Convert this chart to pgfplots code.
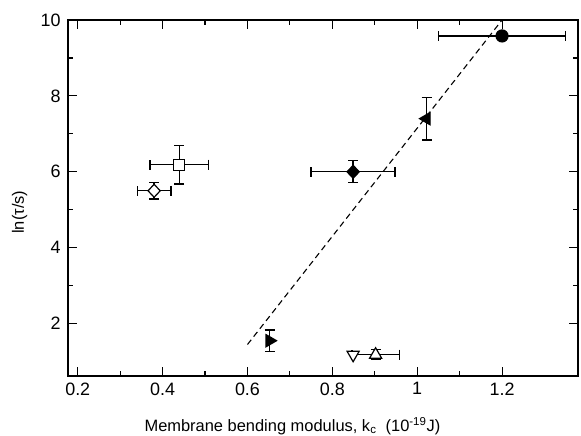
\documentclass[border=0pt]{standalone}
\usepackage{fontspec}
\setmainfont{Liberation Sans}
\usepackage{pgfplots}
\pgfplotsset{compat=1.18}

\begin{document}
\begin{tikzpicture}
\begin{axis}[
    name=ax,
    scale only axis,
    width=510bp,
    height=356bp,
    xmin=0.177, xmax=1.379,
    ymin=0.62, ymax=10,
    xtick={0.2,0.4,0.6,0.8,1,1.2},
    xticklabels={0.2,0.4,0.6,0.8,1,1.2},
    ytick={2,4,6,8,10},
    minor tick num=1,
    major tick length=9bp,
    minor tick length=5bp,
    axis line style={line width=1.2bp},
    every tick/.style={black, line width=1.1bp},
    tick label style={font=\fontsize{18}{20}\selectfont},
    xticklabel style={yshift=-3bp},
    yticklabel style={xshift=-4bp},
    /pgf/number format/assume math mode=true,
    label style={font=\fontsize{16.5}{18}\selectfont},
    xlabel={Membrane bending modulus, k\textsubscript{c}\ \ (10\textsuperscript{-19}J)},
    ylabel={ln(τ/s)},
    xlabel style={at={(axis description cs:0.44,-0.14)}, anchor=center},
    ylabel style={at={(axis description cs:-0.095,0.46)}, anchor=center},
    every axis plot/.append style={line width=1.2bp},
    error bars/error bar style={line width=1.3bp, black},
    error bars/error mark options={rotate=90, line width=1.3bp, mark size=5bp, black},
]
% fit line
\addplot[black, line width=1.1bp, dash pattern=on 6bp off 4bp] coordinates {(0.6,1.45) (1.2,10)};

% filled circle
\addplot[only marks, mark=*, mark size=6bp, black,
    error bars/.cd, x dir=both, x explicit]
    coordinates {(1.2,9.58) +- (0.149,0)};
% filled left triangle
\addplot[only marks, mark=triangle*, mark size=7bp, black, mark options={rotate=90},
    error bars/.cd, y dir=both, y explicit]
    coordinates {(1.022,7.40) +- (0,0.56)};
% filled diamond
\addplot[only marks, mark=diamond*, mark size=6.5bp, black, mark options={xscale=1.25},
    error bars/.cd, x dir=both, x explicit, y dir=both, y explicit]
    coordinates {(0.849,6.0) +- (0.099,0.29)};
% open square
\addplot[only marks, mark=square*, mark size=5.5bp, black, fill=white,
    error bars/.cd, x dir=both, x explicit, y dir=both, y explicit]
    coordinates {(0.439,6.19) +- (0.069,0.51)};
% open diamond
\addplot[only marks, mark=diamond*, mark size=6.5bp, black, fill=white, mark options={xscale=1.25},
    error bars/.cd, x dir=both, x explicit, y dir=both, y explicit]
    coordinates {(0.380,5.50) +- (0.040,0.22)};
% filled right triangle
\addplot[only marks, mark=triangle*, mark size=7bp, black, mark options={rotate=-90},
    error bars/.cd, y dir=both, y explicit]
    coordinates {(0.652,1.55) +- (0,0.28)};
% open up triangle
\addplot[only marks, mark=triangle*, mark size=7bp, black, fill=white,
    error bars/.cd, x dir=both, x explicit, y dir=both, y explicit]
    coordinates {(0.902,1.18) +- (0.056,0.13)};
% open down triangle
\addplot[only marks, mark=triangle*, mark size=7bp, black, fill=white, mark options={rotate=180}]
    coordinates {(0.849,1.18)};
\end{axis}
\pgfresetboundingbox
\path ([xshift=-68bp,yshift=-60bp]ax.south west) rectangle ([xshift=3bp,yshift=20bp]ax.north east);
\end{tikzpicture}
\end{document}
